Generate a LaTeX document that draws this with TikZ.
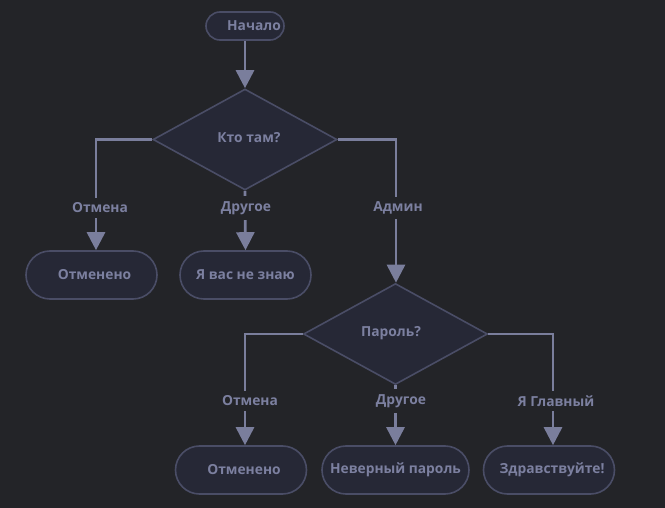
\documentclass[tikz,border=0pt]{standalone}
\usepackage{fontspec}
\setmainfont{Open Sans}
\usetikzlibrary{shapes.geometric,arrows.meta}
\definecolor{bg}{HTML}{232428}
\definecolor{nodefill}{HTML}{262836}
\definecolor{nodeborder}{HTML}{4A4D66}
\definecolor{txt}{HTML}{7C80A0}
\definecolor{edge}{HTML}{7A7E9C}
\begin{document}
\begin{tikzpicture}[x=1pt,y=-1pt,
  every node/.style={font=\fontsize{13.8}{15}\selectfont\bfseries, text=txt},
  term/.style={draw=nodeborder, line width=1.6pt, fill=nodefill, rounded corners=24pt, minimum width=131pt, minimum height=48pt, inner sep=0pt},
  dec/.style={draw=nodeborder, line width=1.6pt, fill=nodefill, diamond, minimum width=184pt, minimum height=101pt, inner sep=0pt, aspect=1.82},
  conn/.style={draw=edge, line width=2.8pt, -{Triangle[length=18pt,width=18pt]}},
  lbl/.style={fill=bg, inner xsep=2.5pt, inner ysep=5pt}
]
\fill[bg] (0,0) rectangle (665,508);
\useasboundingbox (0,0) rectangle (665,508);

\node[draw=nodeborder, line width=1.6pt, fill=nodefill, rounded corners=14pt, minimum width=78pt, minimum height=28pt, inner sep=0pt] (start) at (245,26) {};
\node at (254,26) {Начало};

\node[dec] (d1) at (245,139.5) {};
\node at (249,138) {Кто там?};

\node[term] (c1) at (91.5,275) {\hspace{6pt}Отменено};
\node[term] (u1) at (245.5,275) {Я вас не знаю};

\node[dec] (d2) at (395.5,334) {};
\node at (391,333) {Пароль?};

\node[term] (c2) at (241,470) {\hspace{6pt}Отменено};
\node[term, minimum width=147pt] (w2) at (395.5,470) {Неверный пароль};
\node[term] (h2) at (549,470) {\hspace{6pt}Здравствуйте!};

\coordinate (l1) at (96,139.5);
\coordinate (r1) at (396,139.5);
\coordinate (l2) at (245,334);
\coordinate (r2) at (553,334);

\draw[conn] (start.south) -- (d1.north);
\draw[conn] (d1.west) -- (l1) -- (l1 |- c1.north);
\draw[conn] (d1.south) -- (u1.north);
\draw[conn] (d1.east) -- (r1) -- (r1 |- d2.north);

\draw[conn] (d2.west) -- (l2) -- (l2 |- c2.north);
\draw[conn] (d2.south) -- (w2.north);
\draw[conn] (d2.east) -- (r2) -- (r2 |- h2.north);

\node[lbl] (t1) at (100,208) {Отмена};
\node[lbl] (t2) at (246,208) {Другое};
\node[lbl] (t3) at (398,208) {Админ};
\node[lbl] (t4) at (250,401) {Отмена};
\node[lbl] (t5) at (401,401) {Другое};
\node[lbl] (t6) at (556,401) {Я Главный};
\end{tikzpicture}
\end{document}
